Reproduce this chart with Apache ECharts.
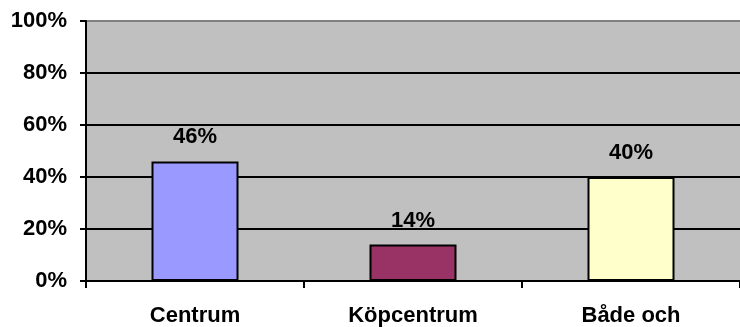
<!DOCTYPE html>
<html>
<head>
<meta charset="utf-8">
<script src="https://cdn.jsdelivr.net/npm/echarts@6/dist/echarts.min.js"></script>
<style>
  html, body { margin: 0; padding: 0; background: #ffffff; }
  #chart { width: 740px; height: 327px; }
</style>
</head>
<body>
<div id="chart"></div>
<script>
// Categories and shares (percent)
const categories = ['Centrum', 'Köpcentrum', 'Både och'];
const shares = [46, 14, 40];
const barColors = ['#9999ff', '#993366', '#ffffcc'];
const yTicks = [0, 20, 40, 60, 80, 100];

const FONT = '"Liberation Sans", Arial, sans-serif';

const chart = echarts.init(document.getElementById('chart'), null, { renderer: 'canvas' });

chart.setOption({
  animation: false,
  backgroundColor: '#ffffff',
  grid: {
    show: true,
    left: 86,
    top: 21,
    width: 660,
    height: 261,
    backgroundColor: '#c0c0c0',
    borderWidth: 0
  },
  xAxis: {
    type: 'category',
    data: categories,
    boundaryGap: true,
    axisLine: { show: true, lineStyle: { color: '#000000', width: 2 } },
    axisTick: { show: true, length: 7, lineStyle: { color: '#000000', width: 2 } },
    axisLabel: {
      margin: 24,
      color: '#000000',
      fontFamily: FONT,
      fontWeight: 'bold',
      fontSize: 22
    },
    splitLine: { show: false }
  },
  yAxis: {
    type: 'value',
    min: yTicks[0],
    max: yTicks[yTicks.length - 1],
    interval: 20,
    axisLine: { show: true, lineStyle: { color: '#000000', width: 2 } },
    axisTick: { show: true, inside: false, length: 6, lineStyle: { color: '#000000', width: 2 } },
    axisLabel: {
      margin: 19,
      color: '#000000',
      fontFamily: FONT,
      fontWeight: 'bold',
      fontSize: 22,
      formatter: v => v + '%'
    },
    splitLine: {
      show: true,
      lineStyle: {
        color: ['#000000', '#000000', '#000000', '#000000', '#000000', '#808080'],
        width: 2
      }
    }
  },
  series: [{
    type: 'bar',
    barWidth: 87,
    data: shares.map((v, i) => ({
      value: v,
      itemStyle: { color: barColors[i], borderColor: '#000000', borderWidth: 2 }
    })),
    label: {
      show: true,
      position: 'top',
      distance: 13,
      color: '#000000',
      fontFamily: FONT,
      fontWeight: 'bold',
      fontSize: 22,
      formatter: p => p.value + '%'
    }
  }]
});
</script>
</body>
</html>
